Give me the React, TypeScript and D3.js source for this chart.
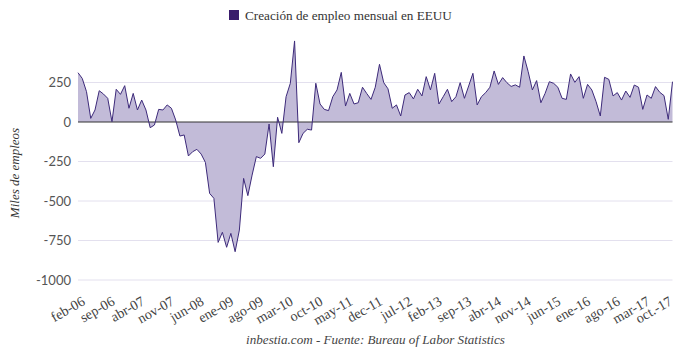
import React from 'react'
import * as d3 from 'd3'

// miles de empleos, un valor por mes (feb-06 .. oct-17)
const v2006 = [312, 276, 192, 23, 76, 198, 177, 150, 2, 207, 175]
const v2007 = [230, 87, 181, 76, 139, 76, -36, -19, 80, 76, 108, 87]
const v2008 = [13, -89, -82, -215, -188, -173, -203, -256, -452, -483, -762, -698]
const v2009 = [-793, -705, -821, -684, -357, -466, -336, -219, -230, -203, -13, -283]
const v2010 = [30, -72, 160, 245, 513, -131, -72, -46, -51, 245, 114, 80]
const v2011 = [72, 160, 203, 314, 101, 181, 114, 122, 220, 180, 143, 220]
const v2012 = [365, 249, 210, 87, 108, 38, 171, 186, 146, 207, 165, 287]
const v2013 = [203, 308, 114, 160, 207, 129, 160, 249, 150, 228, 308, 108]
const v2014 = [160, 186, 220, 323, 238, 281, 249, 225, 235, 220, 418, 320]
const v2015 = [203, 262, 122, 181, 255, 245, 220, 150, 143, 304, 251, 287]
const v2016 = [150, 238, 203, 129, 38, 283, 270, 165, 186, 139, 196, 156]
const v2017 = [234, 220, 80, 171, 150, 224, 188, 167, 17, 255]

const tickLabels = ['feb-06', 'sep-06', 'abr-07', 'nov-07', 'jun-08', 'ene-09', 'ago-09',
  'mar-10', 'oct-10', 'may-11', 'dec-11', 'jul-12', 'feb-13', 'sep-13', 'abr-14',
  'nov-14', 'jun-15', 'ene-16', 'ago-16', 'mar-17', 'oct.-17']
const yTicks = [250, 0, -250, -500, -750, -1000]

const values = [...v2006, ...v2007, ...v2008, ...v2009, ...v2010, ...v2011,
  ...v2012, ...v2013, ...v2014, ...v2015, ...v2016, ...v2017]

const W = 680
const H = 354
const serif = '"Liberation Serif", "DejaVu Serif", serif'
const sans = 'Lato, "Open Sans", sans-serif'

export default function App() {
  const x = d3.scaleLinear().domain([0, values.length - 1]).range([78, 672.5])
  const y = d3.scaleLinear().domain([-1000, 0]).range([280, 122])

  const area = d3.area<number>()
    .x((d, i) => x(i))
    .y0(y(0))
    .y1(d => y(d))
  const line = d3.line<number>()
    .x((d, i) => x(i))
    .y(d => y(d))

  return (
    <div style={{ position: 'absolute', left: 0, top: 0 }}>
      <svg width={W} height={H} style={{ display: 'block', background: '#fff' }}>
        {/* leyenda */}
        <rect x={229} y={10} width={10} height={10} fill="#3a1c6c" />
        <text x={245} y={19.5} fontFamily={serif} fontSize={13.2} fill="#333">
          Creación de empleo mensual en EEUU
        </text>

        {/* rejilla */}
        {yTicks.filter(t => t !== 0).map(t => (
          <line key={t} x1={78} x2={672.5} y1={y(t)} y2={y(t)} stroke="#e3e0ee" strokeWidth={1} />
        ))}
        {yTicks.map(t => (
          <text key={'l' + t} x={71} y={y(t) + 4.5} textAnchor="end" fontFamily={sans}
            fontSize={13} fill="#555">{t}</text>
        ))}

        <path d={area(values) || ''} fill="#c2bbd8" />
        <line x1={78} x2={672.5} y1={y(0)} y2={y(0)} stroke="#333" strokeWidth={1} />
        <path d={line(values) || ''} fill="none" stroke="#3d2a7a" strokeWidth={1} />

        {/* eje x */}
        {tickLabels.map((lab, k) => {
          const px = Math.min(x(k * 7) + 8, 673)
          return (
            <text key={lab} transform={`translate(${px},${304}) rotate(-30)`}
              textAnchor="end" fontFamily={serif} fontSize={14} fill="#444">{lab}</text>
          )
        })}

        <text transform="translate(19,173) rotate(-90)" textAnchor="middle"
          fontFamily={serif} fontStyle="italic" fontSize={13} fill="#333">Miles de empleos</text>
        <text x={375.5} y={344} textAnchor="middle" fontFamily={serif} fontStyle="italic"
          fontSize={13.1} fill="#444">inbestia.com - Fuente: Bureau of Labor Statistics</text>
      </svg>
    </div>
  )
}
